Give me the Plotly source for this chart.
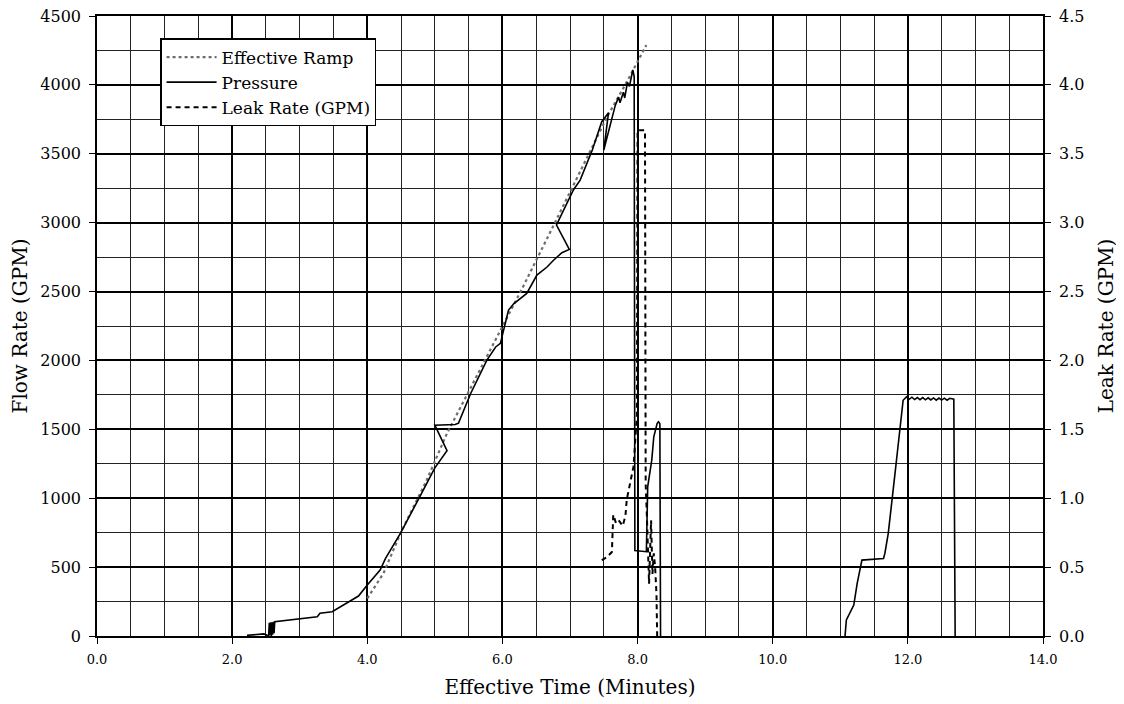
import plotly.graph_objects as go

# Effective ramp (flow rate, GPM)
ramp_t = [4.0, 4.24, 4.49, 4.88, 5.18, 5.5, 5.9, 6.3, 6.76, 7.15, 7.55, 7.85, 8.13]
ramp_f = [273, 455, 745, 1132, 1471, 1775, 2148, 2530, 2983, 3370, 3769, 4030, 4289]

# Pressure trace (plotted on flow-rate axis)
pres_t = [2.22, 2.47, 2.54, 2.55, 2.56, 2.57, 2.58, 2.59, 2.60, 2.61, 2.62, 2.63,
          3.26, 3.30, 3.48, 3.72, 3.87, 4.0, 4.19, 4.27, 4.49, 4.83, 5.0, 5.18,
          5.0, 5.3, 5.35, 5.53, 5.65, 5.77, 5.9, 5.97, 6.09, 6.17, 6.36, 6.51,
          6.66, 6.76, 6.88, 6.99, 6.8, 7.05, 7.15, 7.33, 7.47, 7.57, 7.5, 7.62,
          7.67, 7.72, 7.74, 7.79, 7.81, 7.85, 7.88, 7.92, 7.93, 7.95, 7.96,
          8.13, 8.15, 8.21, 8.24, 8.29, 8.31, 8.33, 8.34,
          None,
          11.07, 11.09, 11.2, 11.25, 11.32, 11.49, 11.64, 11.66, 11.71, 11.81,
          11.88, 11.93, 11.98, 12.02, 12.06, 12.10, 12.14, 12.18, 12.22, 12.26,
          12.30, 12.34, 12.38, 12.42, 12.46, 12.50, 12.54, 12.58, 12.62, 12.66,
          12.68, 12.70]
pres_f = [5, 15, 0, 95, 5, 100, 0, 100, 10, 104, 20, 104,
          140, 165, 176, 249, 290, 370, 479, 564, 745, 1060, 1220, 1345,
          1530, 1535, 1545, 1760, 1880, 2003, 2098, 2124, 2366, 2413, 2487, 2620,
          2678, 2729, 2782, 2806, 2983, 3237, 3309, 3527, 3733, 3798, 3527, 3757,
          3851, 3911, 3870, 3947, 3905, 4019, 3990, 4085, 4108, 4060, 620,
          612, 1084, 1277, 1446, 1544, 1555, 1540, 0,
          None,
          0, 116, 225, 382, 551, 555, 563, 600, 745, 1180,
          1494, 1711, 1735, 1718, 1733, 1716, 1731, 1715, 1730, 1714,
          1729, 1713, 1728, 1712, 1727, 1712, 1726, 1711, 1725, 1719,
          1719, 0]

# Leak rate (GPM, right axis)
leak_t = [7.47, 7.54, 7.62, 7.63, 7.64, 7.68, 7.72, 7.78, 7.82, 7.84, 7.9, 7.94,
          7.99, 8.0, 8.11, 8.12, 8.14, 8.16, 8.17, 8.2, 8.22, 8.24, 8.26, 8.28, 8.29]
leak_v = [0.55, 0.57, 0.61, 0.75, 0.88, 0.82, 0.84, 0.80, 0.87, 0.99, 1.12, 1.23,
          1.6, 3.67, 3.67, 1.1, 0.84, 0.56, 0.38, 0.84, 0.45, 0.6, 0.5, 0.3, 0.0]

FONT = "DejaVu Serif"

fig = go.Figure()
fig.add_trace(go.Scatter(x=ramp_t, y=ramp_f, mode="lines", name="Effective Ramp",
                         line=dict(color="#6e6e6e", width=2.2, dash="dot")))
fig.add_trace(go.Scatter(x=pres_t, y=pres_f, mode="lines", name="Pressure",
                         line=dict(color="black", width=1.6), connectgaps=False))
fig.add_trace(go.Scatter(x=leak_t, y=leak_v, mode="lines", name="Leak Rate (GPM)",
                         yaxis="y2", line=dict(color="black", width=2, dash="5px,4px")))

# page body has an 8px margin; figure is sized/margined to compensate
fig.update_layout(
    width=1116, height=696,
    margin=dict(l=89, r=81, t=8, b=68, autoexpand=False),
    paper_bgcolor="white", plot_bgcolor="white",
    font=dict(family=FONT, color="black", size=13),
    showlegend=True,
    legend=dict(x=0.067, y=0.964, xanchor="left", yanchor="top",
                bgcolor="white", bordercolor="black", borderwidth=1.2,
                font=dict(family=FONT, size=17), tracegroupgap=0,
                itemwidth=50),
    xaxis=dict(range=[0, 14], dtick=2, tick0=0, tickformat=".1f",
               showgrid=True, gridcolor="black", gridwidth=1.6,
               minor=dict(dtick=0.5, showgrid=True, gridcolor="#222", gridwidth=1),
               ticks="outside", ticklen=6, tickcolor="black", ticklabelstandoff=5,
               ticklabeloverflow="allow",
               showline=True, linecolor="black", linewidth=1.6, mirror=True,
               zeroline=False, automargin=False,
               title=dict(text="Effective Time (Minutes)", font=dict(family=FONT, size=20), standoff=14),
               tickfont=dict(family=FONT, size=13)),
    yaxis=dict(range=[0, 4500], dtick=500, tick0=0, tickformat="d",
               showgrid=True, gridcolor="black", gridwidth=1.6,
               minor=dict(dtick=250, showgrid=True, gridcolor="#222", gridwidth=1),
               ticks="outside", ticklen=6, tickcolor="black", ticklabelstandoff=5,
               ticklabeloverflow="allow",
               showline=True, linecolor="black", linewidth=1.6, mirror=True,
               zeroline=False, automargin=False,
               title=dict(text="Flow Rate (GPM)", font=dict(family=FONT, size=20), standoff=12),
               tickfont=dict(family=FONT, size=16)),
    yaxis2=dict(range=[0, 4.5], dtick=0.5, tick0=0, tickformat=".1f",
                overlaying="y", side="right", showgrid=False,
                ticks="outside", ticklen=6, tickcolor="black", ticklabelstandoff=5,
                ticklabeloverflow="allow",
                showline=True, linecolor="black", linewidth=1.6,
                zeroline=False, automargin=False,
                title=dict(text="Leak Rate (GPM)", font=dict(family=FONT, size=20), standoff=16),
                tickfont=dict(family=FONT, size=16)),
)

fig.write_html("out.html")
